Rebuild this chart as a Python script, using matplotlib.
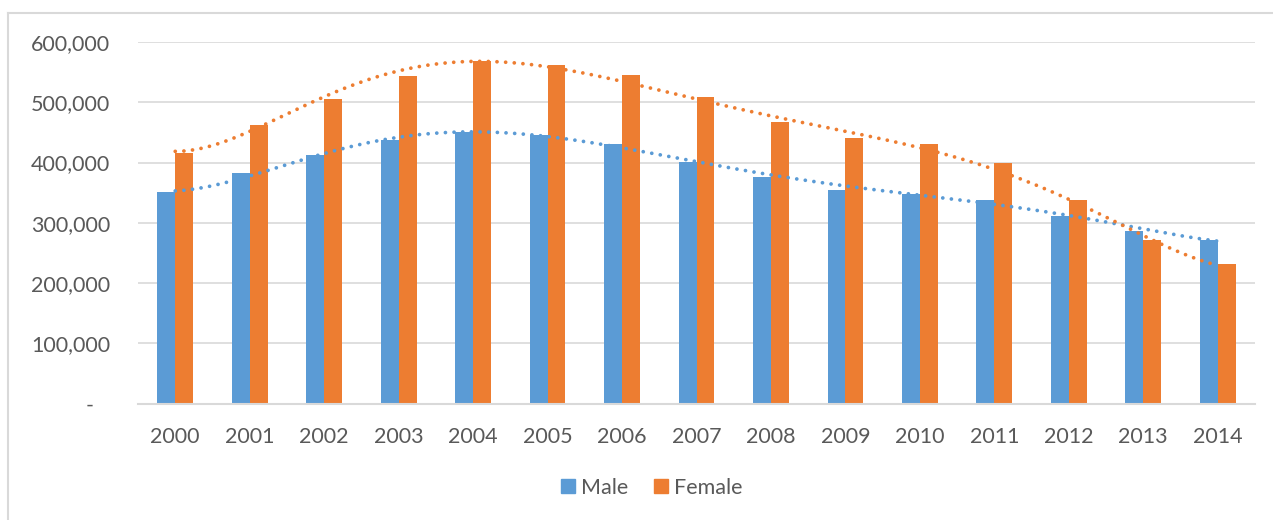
import numpy as np
import matplotlib
matplotlib.use("Agg")
import matplotlib.pyplot as plt
from matplotlib.lines import Line2D
from matplotlib.ticker import FuncFormatter, MultipleLocator

# datos
anios = [2000, 2001, 2002, 2003, 2004, 2005, 2006, 2007,
         2008, 2009, 2010, 2011, 2012, 2013, 2014]
hombres = [351000, 383000, 413000, 437000, 451000, 445000, 430000, 401000,
           376000, 355000, 348000, 337000, 311000, 286000, 271000]
mujeres = [415000, 462000, 505000, 543000, 569000, 561000, 545000, 508000,
           467000, 441000, 431000, 399000, 337000, 272000, 232000]
series = ["Male", "Female"]

AZUL = "#5B9BD5"
NARANJA = "#ED7D31"
GRIS_TEXTO = "#595959"
GRIS_LINEA = "#D9D9D9"
ORDEN_TENDENCIA = 6

plt.rcParams["font.family"] = ["Lato", "DejaVu Sans"]

fig = plt.figure(figsize=(12.73, 5.2), dpi=100)
ax = fig.add_axes([138 / 1273, 1 - 403.5 / 520, (1255 - 138) / 1273, (403.5 - 42) / 520])

x = np.arange(len(anios))
ancho = 0.24
ax.bar(x - ancho / 2, hombres, ancho, color=AZUL, label=series[0], zorder=2)
ax.bar(x + ancho / 2, mujeres, ancho, color=NARANJA, label=series[1], zorder=2)

# líneas de tendencia polinómicas (como en Excel)
xs = np.linspace(0, len(anios) - 1, 300)
for valores, color in [(hombres, AZUL), (mujeres, NARANJA)]:
    coef = np.polyfit(x, valores, ORDEN_TENDENCIA)
    ax.plot(xs, np.polyval(coef, xs), color=color, lw=2.7,
            linestyle=(0, (0.01, 2.3)), dash_capstyle="round", zorder=3)

ax.set_xlim(-0.5, len(anios) - 0.5)
ax.set_ylim(0, 600000)
ax.yaxis.set_major_locator(MultipleLocator(100000))
ax.yaxis.set_major_formatter(FuncFormatter(lambda v, p: "-   " if v == 0 else f"{v:,.0f}"))
ax.set_xticks(x)
ax.set_xticklabels([str(a) for a in anios])
ax.grid(axis="y", color=GRIS_LINEA, lw=1.2, zorder=0)
ax.set_axisbelow(True)
for lado in ["top", "right", "left"]:
    ax.spines[lado].set_visible(False)
ax.spines["bottom"].set_color(GRIS_LINEA)
ax.spines["bottom"].set_linewidth(1.5)
ax.tick_params(axis="both", length=0, labelsize=15.5, colors=GRIS_TEXTO)
ax.tick_params(axis="y", pad=20)
ax.tick_params(axis="x", pad=17)

manijas = [Line2D([], [], marker="s", ls="", color=AZUL, markersize=10),
           Line2D([], [], marker="s", ls="", color=NARANJA, markersize=10)]
ley = fig.legend(manijas, series, loc="center", bbox_to_anchor=(650 / 1273, 1 - 488 / 520),
                 ncol=2, frameon=False, fontsize=15.5, handletextpad=0.1, columnspacing=1.0,
                 handlelength=1.0)
for t in ley.get_texts():
    t.set_color(GRIS_TEXTO)

# borde del área del gráfico
fig.add_artist(Line2D([8 / 1273, 1], [1 - 13 / 520] * 2, color=GRIS_LINEA, lw=1.5))
fig.add_artist(Line2D([8 / 1273] * 2, [0, 1 - 13 / 520], color=GRIS_LINEA, lw=1.5))

fig.savefig("out.png", dpi=100)
